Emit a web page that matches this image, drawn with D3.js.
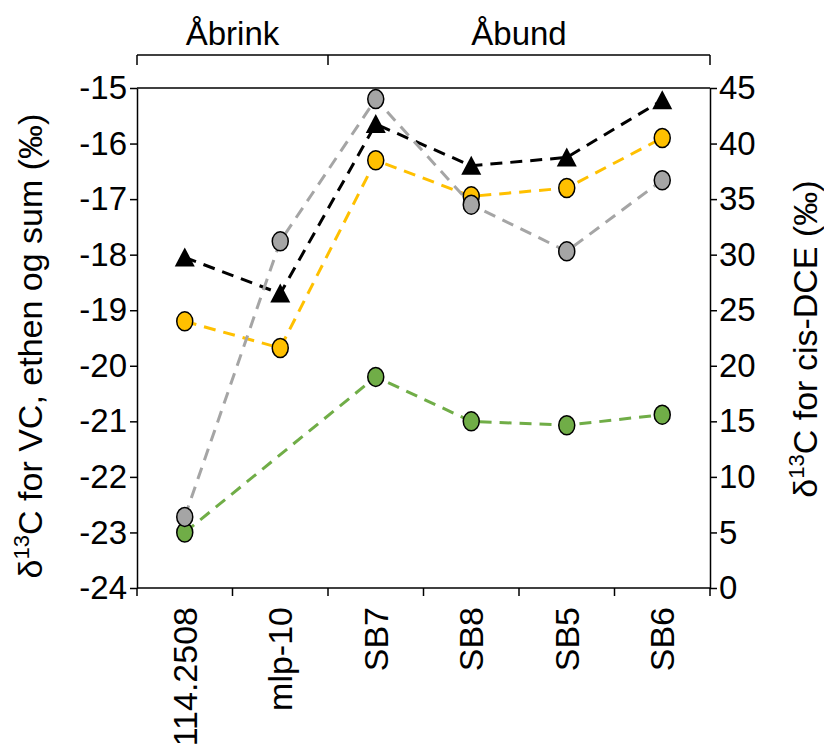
<!DOCTYPE html>
<html lang="en">
<head>
<meta charset="UTF-8">
<title>chart</title>
<script src="https://d3js.org/d3.v7.min.js"></script>
<style>
  body { margin: 0; background: #fff; }
  svg { font-family: "Liberation Sans", Arial, sans-serif; }
</style>
</head>
<body>
<svg width="824" height="745"></svg>
<script>
// data
const categories = ["114.2508", "mlp-10", "SB7", "SB8", "SB5", "SB6"];
const groupNames = ["Åbrink", "Åbund"];
const groupStart = [0, 2];
const groupEnd = [2, 6];

// left axis series (δ13C, ‰)
const blackValues = [-18.05, -18.7, -15.65, -16.4, -16.25, -15.22];
const orangeValues = [-19.2, -19.68, -16.3, -16.95, -16.8, -15.9];
const greenValues = [-23.0, null, -20.2, -21.0, -21.07, -20.88];
// right axis series (cis-DCE)
const grayValues = [6.4, 31.2, 44.0, 34.5, 30.3, 36.7];

const leftTicks = [-24, -23, -22, -21, -20, -19, -18, -17, -16, -15];
const rightTicks = [0, 5, 10, 15, 20, 25, 30, 35, 40, 45];

const plotL = 137, plotR = 710, plotT = 88, plotB = 588;
const svg = d3.select("svg");

const x = d3.scaleBand().domain(categories).range([plotL, plotR]);
const yL = d3.scaleLinear().domain([-24, -15]).range([plotB, plotT]);
const yR = d3.scaleLinear().domain([0, 45]).range([plotB, plotT]);

// top frame line
svg.append("line")
    .attr("x1", plotL).attr("x2", plotR)
    .attr("y1", plotT).attr("y2", plotT)
    .attr("stroke", "#000").attr("stroke-width", 1.5);

// axes
const gL = svg.append("g")
    .attr("transform", "translate(" + plotL + ",0)")
    .call(d3.axisLeft(yL).tickValues(leftTicks).tickSize(7).tickPadding(3).tickSizeOuter(0));
const gR = svg.append("g")
    .attr("transform", "translate(" + plotR + ",0)")
    .call(d3.axisRight(yR).tickValues(rightTicks).tickSize(7).tickPadding(2).tickSizeOuter(0));

const xBounds = d3.range(categories.length + 1).map(i => plotL + i * x.bandwidth());
const gX = svg.append("g");
gX.append("line")
    .attr("x1", plotL).attr("x2", plotR)
    .attr("y1", plotB).attr("y2", plotB)
    .attr("stroke", "#000").attr("stroke-width", 1.5);
gX.selectAll(".tk").data(xBounds).enter().append("line")
    .attr("x1", d => d).attr("x2", d => d)
    .attr("y1", plotB).attr("y2", plotB + 8)
    .attr("stroke", "#000").attr("stroke-width", 1.5);
gX.selectAll("text").data(categories).enter().append("text")
    .attr("transform", d => "translate(" + (x(d) + x.bandwidth() / 2) + "," + (plotB + 19) + ") rotate(-90)")
    .attr("text-anchor", "end")
    .attr("dy", "0.35em")
    .attr("font-size", 34)
    .text(d => d);

[gL, gR].forEach(g => {
    g.selectAll("path, line").attr("stroke", "#000").attr("stroke-width", 1.5);
    g.selectAll("text").attr("font-size", 33).attr("fill", "#000")
        .style("font-family", "Liberation Sans, Arial, sans-serif");
});
gL.selectAll("text").text(d => d < 0 ? "-" + Math.abs(d) : d);

// group bracket on top
const bracketY = 55;
const gB = svg.append("g");
gB.append("line")
    .attr("x1", plotL).attr("x2", plotR)
    .attr("y1", bracketY).attr("y2", bracketY)
    .attr("stroke", "#000").attr("stroke-width", 1.5);
gB.selectAll(".bt").data([0, 2, 6]).enter().append("line")
    .attr("x1", d => xBounds[d]).attr("x2", d => xBounds[d])
    .attr("y1", bracketY).attr("y2", bracketY + 10)
    .attr("stroke", "#000").attr("stroke-width", 1.5);
gB.selectAll("text").data(groupNames).enter().append("text")
    .attr("x", (d, i) => (xBounds[groupStart[i]] + xBounds[groupEnd[i]]) / 2)
    .attr("y", 45)
    .attr("text-anchor", "middle")
    .attr("font-size", 33)
    .text(d => d);

// series
const series = [
    {values: blackValues, scale: yL, line: "#000000", fill: "#000000", shape: "tri"},
    {values: orangeValues, scale: yL, line: "#FFC000", fill: "#FFC000", shape: "dot"},
    {values: greenValues, scale: yL, line: "#70AD47", fill: "#70AD47", shape: "dot"},
    {values: grayValues, scale: yR, line: "#A5A5A5", fill: "#A5A5A5", shape: "dot"}
];

const cx = i => x(categories[i]) + x.bandwidth() / 2;

series.forEach(s => {
    const pts = s.values.map((v, i) => ({i: i, v: v})).filter(p => p.v !== null);
    const line = d3.line().x(p => cx(p.i)).y(p => s.scale(p.v));
    svg.append("path")
        .attr("d", line(pts))
        .attr("fill", "none")
        .attr("stroke", s.line)
        .attr("stroke-width", 3)
        .attr("stroke-dasharray", "12,8");
});

series.forEach(s => {
    const pts = s.values.map((v, i) => ({i: i, v: v})).filter(p => p.v !== null);
    if (s.shape === "tri") {
        svg.selectAll(null).data(pts).enter().append("path")
            .attr("d", p => {
                const px = cx(p.i), py = s.scale(p.v);
                return "M" + px + "," + (py - 10) + "L" + (px + 10) + "," + (py + 9) + "L" + (px - 10) + "," + (py + 9) + "Z";
            })
            .attr("fill", s.fill);
    } else {
        svg.selectAll(null).data(pts).enter().append("ellipse")
            .attr("cx", p => cx(p.i))
            .attr("cy", p => s.scale(p.v))
            .attr("rx", 8).attr("ry", 9.5)
            .attr("fill", s.fill)
            .attr("stroke", "#000")
            .attr("stroke-width", 1.5);
    }
});

// axis titles
const tl = svg.append("text")
    .attr("transform", "translate(42,346) rotate(-90)")
    .attr("text-anchor", "middle")
    .attr("font-size", 34);
tl.append("tspan").text("δ");
tl.append("tspan").attr("font-size", 22).attr("dy", -13).text("13");
tl.append("tspan").attr("dy", 13).text("C for VC, ethen og sum (‰)");

const tr = svg.append("text")
    .attr("transform", "translate(817,339) rotate(-90)")
    .attr("text-anchor", "middle")
    .attr("font-size", 34);
tr.append("tspan").text("δ");
tr.append("tspan").attr("font-size", 22).attr("dy", -13).text("13");
tr.append("tspan").attr("dy", 13).text("C for cis-DCE (‰)");
</script>
</body>
</html>
